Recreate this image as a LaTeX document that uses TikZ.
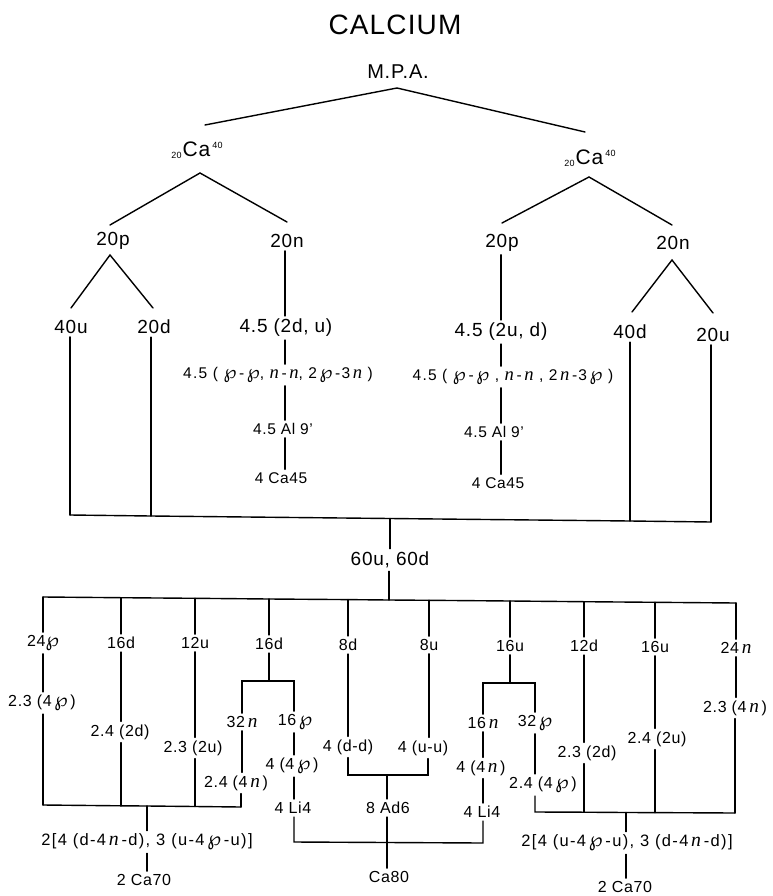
\documentclass[tikz,border=0pt]{standalone}
\usepackage{fontspec}
\setmainfont{Liberation Sans}[LetterSpace=4]
\newfontfamily\symfam{DejaVu Sans}[Scale=1.2]
\newfontfamily\nfam{Liberation Serif}[Scale=1.2]
\newcommand\Pa{{\symfam ℘}}
\newcommand\Na{{\nfam\itshape n}}
\newcommand\vseg[3]{\draw[ln] (#1 |- #2.south) -- (#1 |- #3.north);}
\begin{document}
\begin{tikzpicture}[x=1pt,y=-1pt,
  ln/.style={line width=1.4pt,line cap=round},
  lbl/.style={font=\fontsize{19}{21}\selectfont,inner sep=3pt},
  blbl/.style={font=\fontsize{16}{18}\selectfont,inner sep=3pt},
  sumlbl/.style={font=\fontsize{16.5}{18}\addfontfeatures{LetterSpace=8}\selectfont,inner sep=3pt},
  slbl/.style={font=\fontsize{15.5}{17}\addfontfeatures{LetterSpace=8}\selectfont,inner sep=3pt},
  mlbl/.style={font=\fontsize{15.5}{17}\selectfont,inner sep=3pt}]
\useasboundingbox (0,0) rectangle (772,896);
% ---------- top ----------
\node[font=\fontsize{28}{30}\selectfont] (title) at (395,25) {CALCIUM};
\node[font=\fontsize{20}{22}\selectfont] (mpa) at (398,72) {M.P.A.};
\newcommand\caLabel{{\fontsize{9}{9}\selectfont\raisebox{-0.5ex}{20}}\kern1pt{\fontsize{21}{23}\selectfont Ca}\kern2pt{\fontsize{9}{9}\selectfont\raisebox{1.6ex}{40}}}
\node (caL) at (197,150) {\caLabel};
\node (caR) at (590,158) {\caLabel};
\coordinate (mpaA) at (397,88);
\coordinate (caLt) at (205,125);
\coordinate (caRt) at (585,132);
\draw[ln] (caLt) -- (mpaA) -- (caRt);
\node[lbl] (p20L) at (113,241) {20p};
\node[lbl] (n20L) at (287,241) {20n};
\node[lbl] (p20R) at (502,243) {20p};
\node[lbl] (n20R) at (673,243) {20n};
\coordinate (caLa) at (200,173);
\coordinate (caRa) at (589,177);
\draw[ln] (110,225) coordinate (p20Lt) -- (caLa) -- (287,222) coordinate (n20Lt);
\draw[ln] (502,223) coordinate (p20Rt) -- (caRa) -- (672,225) coordinate (n20Rt);
\node[lbl] (u40) at (71,327) {40u};
\node[lbl] (d20) at (154,327) {20d};
\node[lbl] (d40) at (630,332) {40d};
\node[lbl] (u20) at (713,335) {20u};
\coordinate (pLa) at (110,255);
\coordinate (nRa) at (672,260);
\draw[ln] (71,308) coordinate (u40t) -- (pLa) -- (153,308) coordinate (d20t);
\draw[ln] (632,312) coordinate (d40t) -- (nRa) -- (713,313) coordinate (u20t);
% left neutron chain
\node[lbl] (a1) at (286,328) {4.5 (2d, u)};
\node[slbl] (a2) at (278,375) {4.5 ( \Pa\,-\,\Pa, \Na\,-\,\Na, 2\,\Pa\,-3\,\Na\ )};
\node[mlbl] (a3) at (283,429) {4.5 Al 9'};
\node[mlbl] (a4) at (281,478) {4 Ca45};
\coordinate (xa) at (285,0);
\vseg{xa}{n20L}{a1}
\vseg{xa}{a1}{a2}
\vseg{xa}{a2}{a3}
\vseg{xa}{a3}{a4}
% right proton chain
\node[lbl] (b1) at (501,332) {4.5 (2u, d)};
\node[slbl] (b2) at (513,377) {4.5 ( \Pa\,-\,\Pa\ , \Na\,-\,\Na\ , 2\,\Na\,-3\,\Pa\ )};
\node[mlbl] (b3) at (494,432) {4.5 Al 9'};
\node[mlbl] (b4) at (498,483) {4 Ca45};
\coordinate (xb) at (501,0);
\vseg{xb}{p20R}{b1}
\vseg{xb}{b1}{b2}
\vseg{xb}{b2}{b3}
\vseg{xb}{b3}{b4}
% top bar
\coordinate (bA1) at (70,515);
\coordinate (bA2) at (151,516);
\coordinate (bAm) at (390,518.5);
\coordinate (bA3) at (630,521);
\coordinate (bA4) at (711,522);
\draw[ln] (bA1) -- (bA2) -- (bAm) -- (bA3) -- (bA4);
\draw[ln] (bA1 |- u40.south) -- (bA1);
\draw[ln] (bA2 |- d20.south) -- (bA2);
\draw[ln] (bA3 |- d40.south) -- (bA3);
\draw[ln] (bA4 |- u20.south) -- (bA4);
\node[lbl] (m60) at (390,560) {60u, 60d};
\draw[ln] (bAm) -- (bAm |- m60.north);
% second bar
\coordinate (bB1) at (43,597);
\coordinate (bB2) at (121,597.7);
\coordinate (bB3) at (195,598.3);
\coordinate (bB4) at (269,599);
\coordinate (bB5) at (348,599.6);
\coordinate (bBm) at (389,600);
\coordinate (bB6) at (429,600.3);
\coordinate (bB7) at (510,601);
\coordinate (bB8) at (584,601.7);
\coordinate (bB9) at (655,602.3);
\coordinate (bB10) at (736,603);
\draw[ln] (bB1) -- (bB2) -- (bB3) -- (bB4) -- (bB5) -- (bBm) -- (bB6) -- (bB7) -- (bB8) -- (bB9) -- (bB10);
\draw[ln] (bBm |- m60.south) -- (bBm);
% column labels
\node[blbl] (c1) at (43,643) {24\Pa};
\node[blbl] (c2) at (121,643) {16d};
\node[blbl] (c3) at (195,643) {12u};
\node[blbl] (c4) at (269,644) {16d};
\node[blbl] (c5) at (348,645) {8d};
\node[blbl] (c6) at (429,645) {8u};
\node[blbl] (c7) at (510,646) {16u};
\node[blbl] (c8) at (584,646) {12d};
\node[blbl] (c9) at (655,647) {16u};
\node[blbl] (c10) at (736,648) {24\,\Na};
\foreach \i in {1,...,10}{\draw[ln] (bB\i) -- (bB\i |- c\i.north);}
% left group
\node[blbl] (e1) at (42,703) {2.3 (4\,\Pa\,)};
\node[blbl] (e2) at (120,732) {2.4 (2d)};
\node[blbl] (e3) at (193,748) {2.3 (2u)};
\coordinate (bC1) at (43,805);
\coordinate (bC2) at (121,805.8);
\coordinate (bCm) at (147,806);
\coordinate (bC3) at (195,806.5);
\coordinate (bC4) at (241,807);
\draw[ln] (bC1) -- (bC2) -- (bCm) -- (bC3) -- (bC4);
\vseg{bB1}{c1}{e1}
\vseg{bB2}{c2}{e2}
\vseg{bB3}{c3}{e3}
\draw[ln] (bC1 |- e1.south) -- (bC1);
\draw[ln] (bC2 |- e2.south) -- (bC2);
\draw[ln] (bC3 |- e3.south) -- (bC3);
% 16d split
\node[blbl] (f4a) at (242,722) {32\,\Na};
\node[blbl] (f4b) at (295,722) {16\,\Pa};
\coordinate (s4a) at (242,681);
\coordinate (s4b) at (294,681);
\coordinate (s4m) at (269,681);
\draw[ln] (c4.south) -- (s4m);
\draw[ln] (s4a |- f4a.north) -- (s4a) -- (s4b) -- (s4b |- f4b.north);
\node[blbl] (g4a) at (236,783) {2.4 (4\,\Na\,)};
\node[blbl] (g4b) at (292,766) {4 (4\,\Pa\,)};
\node[blbl] (h4b) at (293,808) {4 Li4};
\vseg{s4a}{f4a}{g4a}
\draw[ln] (bC4 |- g4a.south) -- (bC4);
\vseg{s4b}{f4b}{g4b}
\vseg{s4b}{g4b}{h4b}
% middle group
\node[blbl] (e5) at (348,747) {4 (d-d)};
\node[blbl] (e6) at (423,748) {4 (u-u)};
\vseg{bB5}{c5}{e5}
\vseg{bB6}{c6}{e6}
\coordinate (dd1) at (348,775);
\coordinate (ddm) at (387,775);
\coordinate (dd2) at (428,775);
\draw[ln] (dd1 |- e5.south) -- (dd1) -- (dd2) -- (dd2 |- e6.south);
\node[blbl] (ad) at (388,808) {8 Ad6};
\draw[ln] (ddm) -- (ddm |- ad.north);
\node[blbl] (ca80) at (389,877) {Ca80};
% 16u split
\node[blbl] (f7a) at (483,723) {16\,\Na};
\node[blbl] (f7b) at (535,723) {32\,\Pa};
\coordinate (s7a) at (483,683);
\coordinate (s7b) at (535,683);
\coordinate (s7m) at (510,683);
\draw[ln] (c7.south) -- (s7m);
\draw[ln] (s7a |- f7a.north) -- (s7a) -- (s7b) -- (s7b |- f7b.north);
\node[blbl] (g7a) at (481,768) {4 (4\,\Na\,)};
\node[blbl] (h7a) at (482,812) {4 Li4};
\node[blbl] (g7b) at (543,785) {2.4 (4\,\Pa\,)};
\vseg{s7a}{f7a}{g7a}
\vseg{s7a}{g7a}{h7a}
\vseg{s7b}{f7b}{g7b}
% Li bar
\coordinate (li1) at (294,842);
\coordinate (lim) at (387,842.5);
\coordinate (li2) at (483,843);
\draw[ln] (li1 |- h4b.south) -- (li1) -- (lim) -- (li2) -- (li2 |- h7a.south);
\draw[ln] (ddm |- ad.south) -- (lim) -- (lim |- ca80.north);
% right group
\node[blbl] (e8) at (587,753) {2.3 (2d)};
\node[blbl] (e9) at (657,739) {2.4 (2u)};
\node[blbl] (e10) at (735,708) {2.3 (4\,\Na\,)};
\vseg{bB8}{c8}{e8}
\vseg{bB9}{c9}{e9}
\vseg{bB10}{c10}{e10}
\coordinate (bD1) at (535,812);
\coordinate (bD2) at (584,812.2);
\coordinate (bDm) at (626,812.5);
\coordinate (bD3) at (655,812.6);
\coordinate (bD4) at (735,813);
\draw[ln] (s7b |- g7b.south) -- (bD1) -- (bD2) -- (bDm) -- (bD3) -- (bD4);
\draw[ln] (bD2 |- e8.south) -- (bD2);
\draw[ln] (bD3 |- e9.south) -- (bD3);
\draw[ln] (bD4 |- e10.south) -- (bD4);
% sums
\node[sumlbl] (sumL) at (147,842) {2[4 (d-4\,\Na\,-d), 3 (u-4\,\Pa\,-u)]};
\node[blbl] (ca70L) at (144,880) {2 Ca70};
\draw[ln] (bCm) -- (bCm |- sumL.north);
\draw[ln] (bCm |- sumL.south) -- (bCm |- ca70L.north);
\node[sumlbl] (sumR) at (627,843) {2[4 (u-4\,\Pa\,-u), 3 (d-4\,\Na\,-d)]};
\node[blbl] (ca70R) at (625,887) {2 Ca70};
\draw[ln] (bDm) -- (bDm |- sumR.north);
\draw[ln] (bDm |- sumR.south) -- (bDm |- ca70R.north);
\end{tikzpicture}
\end{document}
